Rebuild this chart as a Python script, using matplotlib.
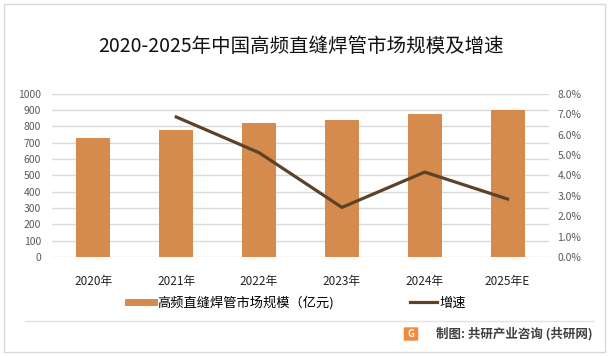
import matplotlib.pyplot as plt
from matplotlib.lines import Line2D
from matplotlib.patches import Rectangle, FancyBboxPatch
import numpy as np

plt.rcParams['font.family'] = ['Noto Sans CJK SC', 'DejaVu Sans']

# 数据
years = ["2020年", "2021年", "2022年", "2023年", "2024年", "2025年E"]
market_size = [729, 777, 820, 839, 876, 900]          # 亿元
growth_years = ["2021年", "2022年", "2023年", "2024年", "2025年E"]
growth_rate = [6.86, 5.11, 2.43, 4.16, 2.84]           # %

bar_color = "#D48B4D"
line_color = "#5E4129"
W, H = 612, 356

fig = plt.figure(figsize=(W / 100, H / 100), dpi=100)

# 外框
fig.add_artist(Rectangle((4 / W, 1 - 352 / H), 601 / W, 348 / H, transform=fig.transFigure,
                         fill=False, edgecolor="#d9d9d9", linewidth=1))

ax = fig.add_axes([52 / W, 1 - 257 / H, (549 - 52) / W, (257 - 93.7) / H])
ax.patch.set_alpha(0)
x = np.arange(len(years))
ax.bar(x, market_size, width=0.41, color=bar_color, zorder=3)
ax.set_ylim(0, 1000)
ax.set_yticks(range(0, 1001, 100))
ax.set_xlim(-0.5, len(years) - 0.5)
ax.set_xticks(x)
ax.set_xticklabels(years, fontsize=8.5, color="#222222")
ax.yaxis.grid(True, color="#d9d9d9", linewidth=1, zorder=0)
ax.tick_params(axis="y", labelsize=7.5, colors="#595959", length=0, pad=8)
ax.tick_params(axis="x", length=0, pad=13)
for s in ax.spines.values():
    s.set_visible(False)

ax2 = ax.twinx()
gx = [years.index(g) for g in growth_years]
ax2.plot(gx, growth_rate, color=line_color, linewidth=2.3, zorder=4)
ax2.set_ylim(0, 8)
ax2.set_yticks(np.arange(0, 8.1, 1))
ax2.set_yticklabels([f"{v:.1f}%" for v in np.arange(0, 8.1, 1)])
ax2.tick_params(axis="y", labelsize=7.5, colors="#595959", length=0, pad=6)
for s in ax2.spines.values():
    s.set_visible(False)

# 标题
fig.text(301 / W, 1 - 46 / H, "2020-2025年中国高频直缝焊管市场规模及增速",
         fontsize=14, ha="center", va="center", color="#111111")

# 图例
handles = [Line2D([0], [0], color=bar_color, linewidth=5),
           Line2D([0], [0], color=line_color, linewidth=2.3)]
fig.legend(handles, ["高频直缝焊管市场规模（亿元)", "增速"], loc="center",
           bbox_to_anchor=(297 / W, 1 - 303 / H), ncol=2, frameon=False,
           fontsize=9.5, handlelength=2.0, handletextpad=0.2, columnspacing=5.8)

# 分隔线与来源
fig.add_artist(Line2D([25 / W, 593 / W], [1 - 321 / H, 1 - 321 / H], transform=fig.transFigure,
                      color="#e3e3e3", linewidth=1))
fig.add_artist(FancyBboxPatch((405 / W, 1 - 340 / H), 12 / W, 12 / H, transform=fig.transFigure,
                              boxstyle="round,pad=0.002", facecolor="#F08A3C", edgecolor="none"))
fig.text(411 / W, 1 - 334 / H, "G", fontsize=7, fontweight="bold", color="white",
         ha="center", va="center")
fig.text(593 / W, 1 - 334 / H, "制图: 共研产业咨询 (共研网)", fontsize=9, fontweight="bold",
         color="#404040", ha="right", va="center")

fig.savefig("out.png", dpi=100)
